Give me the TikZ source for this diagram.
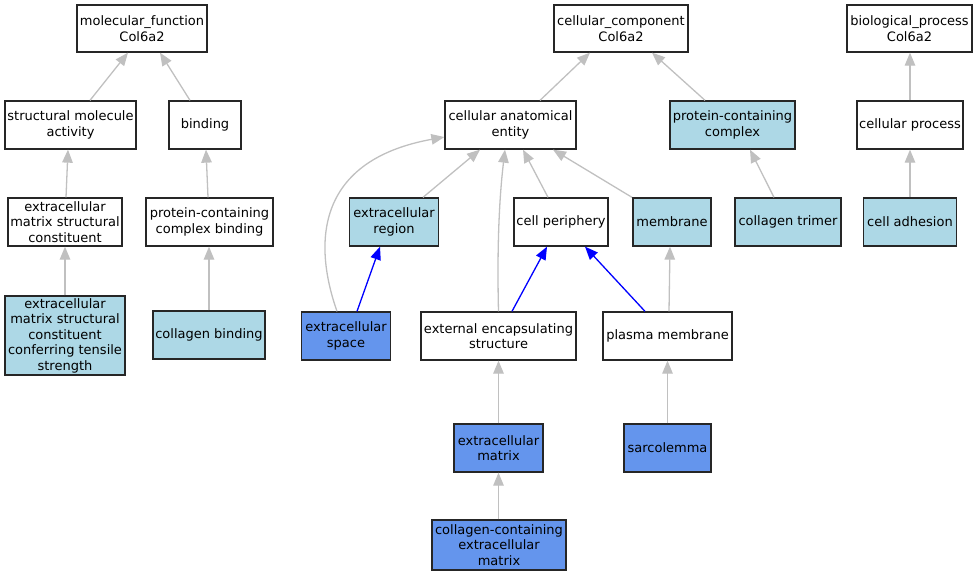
\documentclass[tikz,border=0pt]{standalone}
\usepackage{fontspec}
\setmainfont{DejaVu Sans}
\usetikzlibrary{arrows.meta,calc}
\definecolor{lb}{HTML}{ADD8E6}
\definecolor{cfb}{HTML}{6495ED}
\definecolor{silv}{HTML}{C0C0C0}
\tikzset{
  box/.style={draw=black!85, line width=1.3pt, fill=white, inner sep=0pt, align=center,
    font=\fontsize{13}{15.5}\selectfont},
  lbox/.style={box, fill=lb},
  cbox/.style={box, fill=cfb},
  gedge/.style={draw=silv, line width=1.3pt, -{Triangle[length=13pt,width=10.5pt]}},
  bedge/.style={draw=blue, line width=1.3pt, -{Triangle[length=13pt,width=10.5pt]}},
}
\begin{document}
\begin{tikzpicture}[x=1pt,y=-1pt]
\useasboundingbox (0,0) rectangle (979,576);
% molecular function branch
\node[box, minimum width=130pt, minimum height=47pt] (mf) at (142,28.5) {molecular\_function\\Col6a2};
\node[box, minimum width=131pt, minimum height=48pt] (sma) at (70.5,125) {structural molecule\\activity};
\node[box, minimum width=72pt, minimum height=48pt] (bind) at (205,125) {binding};
\node[box, minimum width=114pt, minimum height=48pt] (ecmsc) at (65,222) {extracellular\\matrix structural\\constituent};
\node[box, minimum width=127pt, minimum height=48pt] (pccb) at (209.5,222) {protein-containing\\complex binding};
\node[lbox, minimum width=120pt, minimum height=79pt] (ecmts) at (65,335.5) {extracellular\\matrix structural\\constituent\\conferring tensile\\strength};
\node[lbox, minimum width=112pt, minimum height=48pt] (cb) at (209,335) {collagen binding};
% cellular component branch
\node[box, minimum width=134pt, minimum height=47pt] (cc) at (621,28.5) {cellular\_component\\Col6a2};
\node[box, minimum width=131pt, minimum height=48pt] (cae) at (510.5,125) {cellular anatomical\\entity};
\node[lbox, minimum width=125pt, minimum height=48pt] (pcc) at (732.5,125) {protein-containing\\complex};
\node[lbox, minimum width=89pt, minimum height=48pt] (er) at (394,222) {extracellular\\region};
\node[box, minimum width=94pt, minimum height=48pt] (cper) at (561,222) {cell periphery};
\node[lbox, minimum width=78pt, minimum height=48pt] (mem) at (672,222) {membrane};
\node[lbox, minimum width=106pt, minimum height=48pt] (ct) at (788,222) {collagen trimer};
\node[cbox, minimum width=89pt, minimum height=48pt] (es) at (346,336) {extracellular\\space};
\node[box, minimum width=155pt, minimum height=48pt] (ees) at (498.5,336) {external encapsulating\\structure};
\node[box, minimum width=129pt, minimum height=48pt] (pm) at (667.5,336) {plasma membrane};
\node[cbox, minimum width=89pt, minimum height=48pt] (ecm) at (498.5,448) {extracellular\\matrix};
\node[cbox, minimum width=87pt, minimum height=48pt] (sarc) at (667.5,448) {sarcolemma};
\node[cbox, minimum width=134pt, minimum height=50pt] (ccecm) at (499,545) {collagen-containing\\extracellular\\matrix};
% biological process branch
\node[box, minimum width=125pt, minimum height=47pt] (bp) at (909.5,28.5) {biological\_process\\Col6a2};
\node[box, minimum width=106pt, minimum height=48pt] (cproc) at (910,125) {cellular process};
\node[lbox, minimum width=93pt, minimum height=48pt] (ca) at (910,222) {cell adhesion};
% edges: molecular function
\draw[gedge] ([xshift=19.5pt]sma.north) -- ([xshift=-14pt]mf.south);
\draw[gedge] ([xshift=-15pt]bind.north) -- ([xshift=18pt]mf.south);
\draw[gedge] ([xshift=1pt]ecmsc.north) -- ([xshift=-2.5pt]sma.south);
\draw[gedge] ([xshift=-1.5pt]pccb.north) -- ([xshift=1pt]bind.south);
\draw[gedge] (ecmts.north) -- (ecmsc.south);
\draw[gedge] (cb.north) -- ([xshift=-0.5pt]pccb.south);
% edges: cellular component
\draw[gedge] ([xshift=29.5pt]cae.north) -- ([xshift=-31pt]cc.south);
\draw[gedge] ([xshift=-27.5pt]pcc.north) -- ([xshift=31pt]cc.south);
\draw[gedge] ([xshift=29pt]er.north) -- ([xshift=-30.5pt]cae.south);
\draw[gedge] ([xshift=-13pt]cper.north) -- ([xshift=12.5pt]cae.south);
\draw[gedge] ([xshift=-40pt]mem.north) -- ([xshift=42.5pt]cae.south);
\draw[gedge] ([xshift=-9pt]es.north) .. controls (312,240) and (318,160) .. ([yshift=-12pt]cae.west);
\draw[gedge] (ees.north) .. controls (497,250) and (499,200) .. ([xshift=-5.5pt]cae.south);
\draw[gedge] ([xshift=-14pt]ct.north) -- ([xshift=17.5pt]pcc.south);
\draw[bedge] ([xshift=11pt]es.north) -- ([xshift=-14pt]er.south);
\draw[bedge] ([xshift=13.5pt]ees.north) -- ([xshift=-14pt]cper.south);
\draw[bedge] ([xshift=-22.5pt]pm.north) -- ([xshift=24pt]cper.south);
\draw[gedge] ([xshift=1.5pt]pm.north) -- ([xshift=-2pt]mem.south);
\draw[gedge] (ecm.north) -- (ees.south);
\draw[gedge] (sarc.north) -- (pm.south);
\draw[gedge] ([xshift=-0.5pt]ccecm.north) -- (ecm.south);
% edges: biological process
\draw[gedge] (cproc.north) -- ([xshift=0.5pt]bp.south);
\draw[gedge] (ca.north) -- (cproc.south);
\end{tikzpicture}
\end{document}
